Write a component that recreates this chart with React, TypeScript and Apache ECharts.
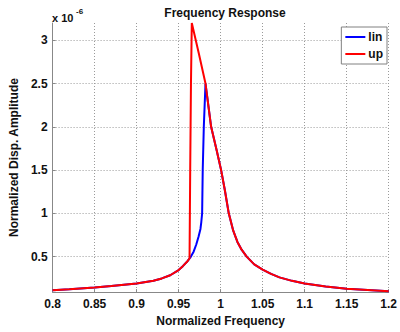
import React, { useEffect, useRef } from "react";
import * as echarts from "echarts";

const xTicks = [0.8, 0.85, 0.9, 0.95, 1, 1.05, 1.1, 1.15, 1.2];
const yTicks = [0.5, 1, 1.5, 2, 2.5, 3];

// "up" sweep (red)
const upX = [0.8, 0.82, 0.85, 0.87, 0.9, 0.92, 0.93, 0.94, 0.95, 0.955, 0.96, 0.963, 0.9638, 0.9647, 0.9657, 0.974, 0.982, 0.9887, 0.995, 1.0006, 1.005, 1.0097, 1.015, 1.02, 1.025, 1.031, 1.04, 1.05, 1.06, 1.07, 1.085, 1.1, 1.125, 1.15, 1.175, 1.2];
const upY = [0.11, 0.122, 0.142, 0.16, 0.19, 0.222, 0.248, 0.285, 0.345, 0.39, 0.44, 0.48, 1.5, 2.5, 3.2, 2.85, 2.5, 2.0, 1.74, 1.5, 1.27, 1.0, 0.8, 0.67, 0.58, 0.5, 0.41, 0.35, 0.3, 0.26, 0.22, 0.19, 0.155, 0.13, 0.115, 0.1];

// "lin" (blue)
const linX = [0.8, 0.82, 0.85, 0.87, 0.9, 0.92, 0.93, 0.94, 0.95, 0.955, 0.96, 0.963, 0.964, 0.968, 0.971, 0.9737, 0.976, 0.977, 0.978, 0.9787, 0.98, 0.982, 0.9887, 0.995, 1.0006, 1.005, 1.0097, 1.015, 1.02, 1.025, 1.031, 1.04, 1.05, 1.06, 1.07, 1.085, 1.1, 1.125, 1.15, 1.175, 1.2];
const linY = [0.11, 0.122, 0.142, 0.16, 0.19, 0.222, 0.248, 0.285, 0.345, 0.39, 0.44, 0.48, 0.49, 0.56, 0.64, 0.73, 0.82, 0.9, 1.0, 1.5, 2.0, 2.5, 2.0, 1.74, 1.5, 1.27, 1.0, 0.8, 0.67, 0.58, 0.5, 0.41, 0.35, 0.3, 0.26, 0.22, 0.19, 0.155, 0.13, 0.115, 0.1];

const FONT = "'Liberation Sans', Arial, sans-serif";

export default function App() {
  const ref = useRef<HTMLDivElement>(null);
  useEffect(() => {
    if (!ref.current) return;
    const chart = echarts.init(ref.current, null, { renderer: "svg" });
    const gridLine = { show: true, lineStyle: { color: "#9a9a9a", type: [1, 2] as any, width: 1 } };
    chart.setOption({
      animation: false,
      backgroundColor: "#ffffff",
      title: {
        text: "Frequency Response",
        left: 220,
        top: 2,
        textAlign: "center",
        textStyle: { fontFamily: FONT, fontWeight: "bold", fontSize: 12, color: "#111" },
      },
      legend: {
        right: 13,
        top: 27,
        orient: "vertical",
        itemWidth: 20,
        itemHeight: 2,
        itemGap: 5,
        padding: [4, 4, 4, 4],
        backgroundColor: "#fff",
        borderColor: "#808080",
        borderWidth: 1,
        borderRadius: 0,
        icon: "rect",
        textStyle: { fontFamily: FONT, fontWeight: "bold", fontSize: 12, color: "#111", padding: [0, 0, 0, -2] },
        data: ["lin", "up"],
      },
      grid: { left: 52, right: 11, top: 23, bottom: 36, containLabel: false },
      xAxis: {
        type: "value",
        min: 0.8,
        max: 1.2,
        interval: 0.05,
        name: "Normalized Frequency",
        nameLocation: "middle",
        nameGap: 22,
        nameTextStyle: { fontFamily: FONT, fontWeight: "bold", fontSize: 12, color: "#111" },
        axisLine: { show: true, lineStyle: { color: "#888", width: 1 } },
        axisTick: { show: true, inside: true, length: 3, lineStyle: { color: "#888" }, customValues: xTicks },
        axisLabel: {
          fontFamily: FONT,
          fontWeight: "bold",
          fontSize: 12,
          color: "#111",
          margin: 6,
          customValues: xTicks,
          formatter: (v: number) => String(+v.toFixed(2)),
        },
        splitLine: gridLine,
      },
      yAxis: {
        type: "value",
        min: 0.09,
        max: 3.2,
        name: "Normalized Disp. Amplitude",
        nameLocation: "middle",
        nameGap: 29,
        nameTextStyle: { fontFamily: FONT, fontWeight: "bold", fontSize: 12, color: "#111" },
        axisLine: { show: true, lineStyle: { color: "#888", width: 1 } },
        axisTick: { show: true, inside: true, length: 3, lineStyle: { color: "#888" }, customValues: yTicks },
        axisLabel: {
          fontFamily: FONT,
          fontWeight: "bold",
          fontSize: 12,
          color: "#111",
          margin: 5,
          customValues: yTicks,
          formatter: (v: number) => String(+v.toFixed(2)),
        },
        splitLine: gridLine,
      },
      graphic: [
        {
          type: "text",
          left: 52,
          top: 12,
          style: { text: "x 10", fontFamily: FONT, fontWeight: "bold", fontSize: 11, fill: "#111" },
        },
        {
          type: "text",
          left: 76,
          top: 7,
          style: { text: "-6", fontFamily: FONT, fontWeight: "bold", fontSize: 8, fill: "#111" },
        },
      ],
      series: [
        {
          name: "lin",
          type: "line",
          showSymbol: false,
          symbol: "none",
          color: "#0000ff",
          lineStyle: { width: 2, color: "#0000ff" },
          data: linX.map((x, i) => [x, linY[i]]),
        },
        {
          name: "up",
          type: "line",
          showSymbol: false,
          symbol: "none",
          color: "#ff0000",
          lineStyle: { width: 2, color: "#ff0000" },
          data: upX.map((x, i) => [x, upY[i]]),
        },
      ],
    });
    return () => chart.dispose();
  }, []);
  return <div ref={ref} style={{ width: 400, height: 332, position: "absolute", left: 0, top: 0 }} />;
}
